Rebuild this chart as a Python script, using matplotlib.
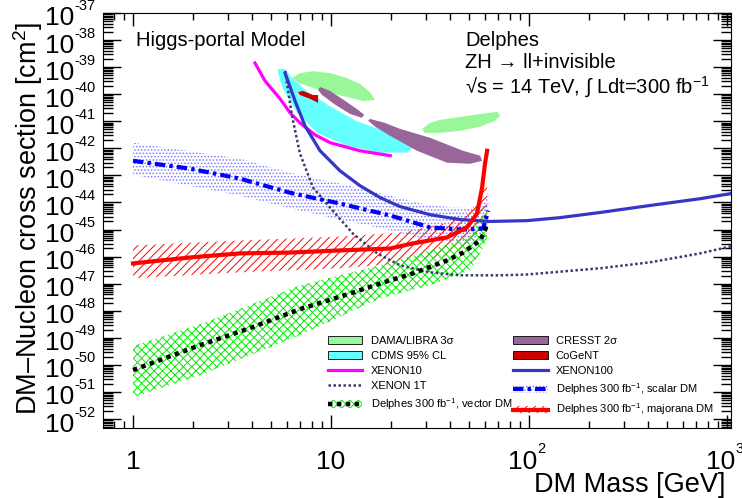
import numpy as np
import matplotlib
matplotlib.use("Agg")
import matplotlib.pyplot as plt
from matplotlib.patches import Patch
from matplotlib.lines import Line2D
from matplotlib.ticker import LogLocator, NullFormatter
from matplotlib.transforms import blended_transform_factory, ScaledTranslation

plt.rcParams['font.family'] = ['Liberation Sans', 'DejaVu Sans']
plt.rcParams['mathtext.fontset'] = 'custom'
plt.rcParams['mathtext.rm'] = 'Liberation Sans'
plt.rcParams['mathtext.it'] = 'Liberation Sans:italic'
plt.rcParams['mathtext.bf'] = 'Liberation Sans:bold'
plt.rcParams['axes.unicode_minus'] = False
plt.rcParams['hatch.linewidth'] = 0.7

# ---- data (mass in GeV, log10 of cross section in cm^2) ----
# XENON10 limit
x10_m = [4.13, 4.64, 5.53, 6.21, 6.97, 8.30, 9.89, 14.0, 19.9]
x10_s = [-38.85, -39.51, -40.17, -40.69, -41.06, -41.50, -41.79, -42.09, -42.27]

# XENON100 limit
x100_m = [5.86, 6.58, 7.39, 8.80, 11.1, 14.0, 17.7, 22.3, 31.6, 44.8, 63.5, 97.8, 143, 228, 408, 731, 1047]
x100_s = [-39.22, -40.25, -41.17, -42.09, -42.83, -43.38, -43.82, -44.15, -44.45, -44.63, -44.70,
          -44.67, -44.56, -44.37, -44.11, -43.86, -43.67]

# XENON 1T projection
x1t_m = [5.86, 6.35, 6.97, 8.11, 9.89, 12.9, 17.1, 22.3, 31.6, 44.8, 71.4, 97.8, 228, 408, 731, 1047]
x1t_s = [-39.14, -40.80, -42.20, -43.45, -44.19, -45.15, -45.88, -46.32, -46.58, -46.69, -46.69,
         -46.66, -46.43, -46.21, -45.88, -45.62]

# Delphes scalar DM
sc_m = [1.0, 1.94, 3.47, 6.21, 11.1, 19.9, 31.6, 46.4, 58.6, 62.2]
sc_s = [-42.46, -42.75, -43.12, -43.64, -44.04, -44.48, -44.92, -45.00, -44.96, -44.30]
scb_m = [1.0, 3.47, 6.21, 11.1, 19.9, 31.6, 50.4, 59.9, 62.2]
scb_hi = [-41.79, -42.38, -42.90, -43.30, -43.75, -44.11, -44.22, -43.93, -43.56]
scb_lo = [-42.97, -43.75, -44.22, -44.63, -45.03, -45.40, -45.51, -45.40, -44.85]

# Delphes majorana DM
mj_m = [1.0, 1.94, 3.47, 6.21, 11.1, 19.9, 25.9, 38.5, 48.6, 54.6, 57.9, 59.9, 61.4]
mj_s = [-46.25, -46.03, -45.88, -45.85, -45.77, -45.70, -45.51, -45.29, -44.92, -44.41, -43.45, -42.57, -42.09]
mjb_m = [1.0, 3.47, 11.1, 22.3, 39.9, 53.4, 61.4]
mjb_hi = [-45.59, -45.40, -45.26, -45.11, -44.74, -44.11, -43.19]
mjb_lo = [-46.80, -46.58, -46.43, -46.25, -45.96, -45.40, -44.67]

# Delphes vector DM
vc_m = [1.0, 2.18, 3.90, 6.97, 12.5, 17.7, 25.9, 38.5, 46.4, 56.6, 59.9, 61.4]
vc_s = [-50.19, -49.27, -48.64, -47.94, -47.36, -46.99, -46.62, -46.14, -45.85, -45.40, -45.03, -44.78]
vcb_m = [1.0, 2.18, 6.97, 17.7, 31.6, 50.4, 61.4]
vcb_hi = [-49.30, -48.50, -47.06, -46.32, -45.77, -45.22, -44.22]
vcb_lo = [-51.19, -50.38, -48.90, -47.54, -47.06, -46.51, -45.40]

# signal regions (closed contours)
dama1_m = [6.35, 6.97, 8.11, 9.89, 12.0, 14.0, 15.7, 16.7, 14.5, 12.0, 9.89, 8.11, 6.74]
dama1_s = [-39.40, -39.22, -39.15, -39.22, -39.40, -39.62, -39.92, -40.21, -40.25, -40.10, -39.95, -39.77, -39.55]
dama2_m = [28.8, 31.6, 35.5, 44.8, 56.6, 68.9, 71.4, 67.3, 56.6, 44.8, 35.5, 29.8]
dama2_s = [-41.28, -41.06, -40.95, -40.84, -40.73, -40.65, -40.80, -40.98, -41.20, -41.35, -41.43, -41.43]
cresst1_m = [8.80, 9.89, 11.8, 13.7, 14.7, 14.3, 12.5, 10.5, 9.01, 8.60]
cresst1_s = [-39.73, -39.88, -40.25, -40.58, -40.76, -40.87, -40.73, -40.39, -40.03, -39.84]
cresst2_m = [15.7, 18.7, 22.3, 31.6, 46.4, 56.6, 57.9, 50.4, 38.5, 27.2, 19.9, 16.7, 15.4]
cresst2_s = [-40.91, -41.06, -41.28, -41.61, -42.09, -42.27, -42.46, -42.57, -42.53, -42.09, -41.54, -41.20, -40.98]
cdms_m = [5.40, 5.86, 6.35, 7.57, 9.89, 13.5, 17.7, 23.1, 26.6, 24.2, 17.7, 12.0, 8.50, 6.74, 5.72, 5.40]
cdms_s = [-39.07, -39.07, -39.40, -39.90, -40.45, -41.00, -41.30, -41.62, -41.90, -42.16, -42.16,
          -41.90, -41.43, -40.69, -39.80, -39.22]
cogent_m = [6.81, 7.22, 8.11, 8.60, 8.60, 7.83, 6.97]
cogent_s = [-39.92, -39.88, -40.03, -40.03, -40.32, -40.17, -40.03]

# tick labels
x_ticks = [1, 10, 100, 1000]
x_base = ['1', '10', '10', '10']
x_sup = ['', '', '2', '3']
y_exps = list(range(-37, -53, -1))


def sig(a):
    return 10.0 ** np.array(a)


fig = plt.figure(figsize=(7.42, 4.98), dpi=100)
ax = fig.add_axes([103 / 742, 70 / 498, 628 / 742, 415 / 498])
ax.set_xscale('log')
ax.set_yscale('log')

# regions
ax.fill(cdms_m, sig(cdms_s), color='#66ffff', lw=0, zorder=2)
ax.fill(dama1_m, sig(dama1_s), color='#99f799', lw=0, zorder=3)
ax.fill(dama2_m, sig(dama2_s), color='#99f799', lw=0, zorder=3)
ax.fill(cresst1_m, sig(cresst1_s), color='#996699', lw=0, zorder=3)
ax.fill(cresst2_m, sig(cresst2_s), color='#996699', lw=0, zorder=3)
ax.fill(cogent_m, sig(cogent_s), color='#cc0000', lw=0, zorder=4)

# bands
ax.fill_between(scb_m, sig(scb_lo), sig(scb_hi), facecolor='none', edgecolor='#7a7aff',
                hatch='.....', lw=0, zorder=2)
ax.fill_between(mjb_m, sig(mjb_lo), sig(mjb_hi), facecolor='none', edgecolor='#ff0000',
                hatch='////', lw=0, zorder=2)
ax.fill_between(vcb_m, sig(vcb_lo), sig(vcb_hi), facecolor='none', edgecolor='#00ee00',
                hatch='xxxx', lw=0, zorder=2)

# limits
ax.plot(x10_m, sig(x10_s), color='#ff00ff', lw=2.3, zorder=5)
ax.plot(x1t_m, sig(x1t_s), color='#3a3a6a', lw=1.8, ls=(0, (1, 1)), zorder=5)
ax.plot(x100_m, sig(x100_s), color='#3535c8', lw=2.3, zorder=5)
ax.plot(sc_m, sig(sc_s), color='#0000ff', lw=3, ls=(0, (2.5, 1, 0.8, 1)), zorder=6)
ax.plot(mj_m, sig(mj_s), color='#ff0000', lw=3, zorder=6)
ax.plot(vc_m, sig(vc_s), color='black', lw=3.2, ls=(0, (1, 1)), zorder=6)

ax.set_xlim(0.705, 1047)
ax.set_ylim(10 ** -52.33, 10 ** -37.0)

ax.yaxis.set_major_locator(LogLocator(base=10, numticks=30))
ax.yaxis.set_minor_locator(LogLocator(base=10, subs=np.arange(2, 10), numticks=300))
ax.xaxis.set_minor_locator(LogLocator(base=10, subs=np.arange(2, 10), numticks=30))
for a in (ax.xaxis, ax.yaxis):
    a.set_major_formatter(NullFormatter())
    a.set_minor_formatter(NullFormatter())
ax.tick_params(which='both', direction='in', top=True, right=True, width=1)
ax.tick_params(axis='y', which='major', length=13)
ax.tick_params(axis='y', which='minor', length=7)
ax.tick_params(axis='x', which='major', length=9.5)
ax.tick_params(axis='x', which='minor', length=5)

# ROOT-style tick labels: big "10" with small exponent
ytr = blended_transform_factory(fig.transFigure, ax.transData)
down = ScaledTranslation(0, -0.055, fig.dpi_scale_trans)
up = ScaledTranslation(0, 0.065, fig.dpi_scale_trans)
for e in y_exps:
    ax.text(74 / 742, 10.0 ** e, '10', transform=ytr + down, ha='right', va='center',
            fontsize=19, clip_on=False)
    ax.text(74.5 / 742, 10.0 ** e, str(e), transform=ytr + up, ha='left', va='center',
            fontsize=10.5, clip_on=False)

xtr = blended_transform_factory(ax.transData, fig.transFigure)
for t, b, s in zip(x_ticks, x_base, x_sup):
    if s:
        ax.text(t, 1 - 462 / 498, b, transform=xtr + ScaledTranslation(-0.06, 0, fig.dpi_scale_trans),
                ha='center', va='center', fontsize=19, clip_on=False)
        ax.text(t, 1 - 449 / 498, s, transform=xtr + ScaledTranslation(0.08, 0, fig.dpi_scale_trans),
                ha='left', va='center', fontsize=10.5, clip_on=False)
    else:
        ax.text(t, 1 - 462 / 498, b, transform=xtr, ha='center', va='center', fontsize=19, clip_on=False)

fig.text(0.038, 0.956, 'DM–Nucleon cross section [cm$^{2}$]', rotation=90, ha='center', va='top', fontsize=19.5)
fig.text(725 / 742, 0.026, 'DM Mass [GeV]', ha='right', va='center', fontsize=19.5)

ax.text(136 / 742, 1 - 40 / 498, 'Higgs-portal Model', transform=fig.transFigure, fontsize=14.5, va='center')
ax.text(465 / 742, 1 - 41 / 498, 'Delphes', transform=fig.transFigure, fontsize=14.5, va='center')
ax.text(465 / 742, 1 - 62 / 498, 'ZH → ll+invisible', transform=fig.transFigure, fontsize=14.5, va='center')
ax.text(465 / 742, 1 - 87 / 498, '√s = 14 TeV, ∫ Ldt=300 fb$^{-1}$', transform=fig.transFigure,
        fontsize=14.5, va='center')

# legend
h_dama = Patch(facecolor='#99f799', edgecolor='black', lw=0.6)
h_cdms = Patch(facecolor='#66ffff', edgecolor='black', lw=0.6)
h_x10 = Line2D([], [], color='#ff00ff', lw=2.3)
h_x1t = Line2D([], [], color='#3a3a6a', lw=1.8, ls=(0, (1, 1)))
h_vec = (Patch(facecolor='none', edgecolor='#00ee00', hatch='xxxx', lw=0),
         Line2D([], [], color='black', lw=3.2, ls=(0, (1, 1))))
h_cresst = Patch(facecolor='#996699', edgecolor='black', lw=0.6)
h_cogent = Patch(facecolor='#cc0000', edgecolor='black', lw=0.6)
h_x100 = Line2D([], [], color='#3535c8', lw=2.3)
h_sc = (Patch(facecolor='none', edgecolor='#7a7aff', hatch='.....', lw=0),
        Line2D([], [], color='#0000ff', lw=3, ls=(0, (2.5, 1, 0.8, 1))))
h_mj = (Patch(facecolor='none', edgecolor='#ff0000', hatch='////', lw=0),
        Line2D([], [], color='#ff0000', lw=3))

common = dict(loc='upper left', frameon=False, fontsize=8, handlelength=3.1, handleheight=0.7,
              handletextpad=0.75, labelspacing=0.45, borderpad=0, borderaxespad=0)
leg1 = ax.legend([h_dama, h_cdms, h_x10, h_x1t, h_vec],
                 ['DAMA/LIBRA 3σ', 'CDMS 95% CL', 'XENON10', 'XENON 1T',
                  'Delphes 300 fb$^{-1}$, vector DM'],
                 bbox_to_anchor=(0.358, 0.222), **common)
ax.add_artist(leg1)
ax.legend([h_cresst, h_cogent, h_x100, h_sc, h_mj],
          ['CRESST 2σ', 'CoGeNT', 'XENON100', 'Delphes 300 fb$^{-1}$, scalar DM',
           'Delphes 300 fb$^{-1}$, majorana DM'],
          bbox_to_anchor=(0.653, 0.222), **common)

fig.savefig('out.png', dpi=100)
